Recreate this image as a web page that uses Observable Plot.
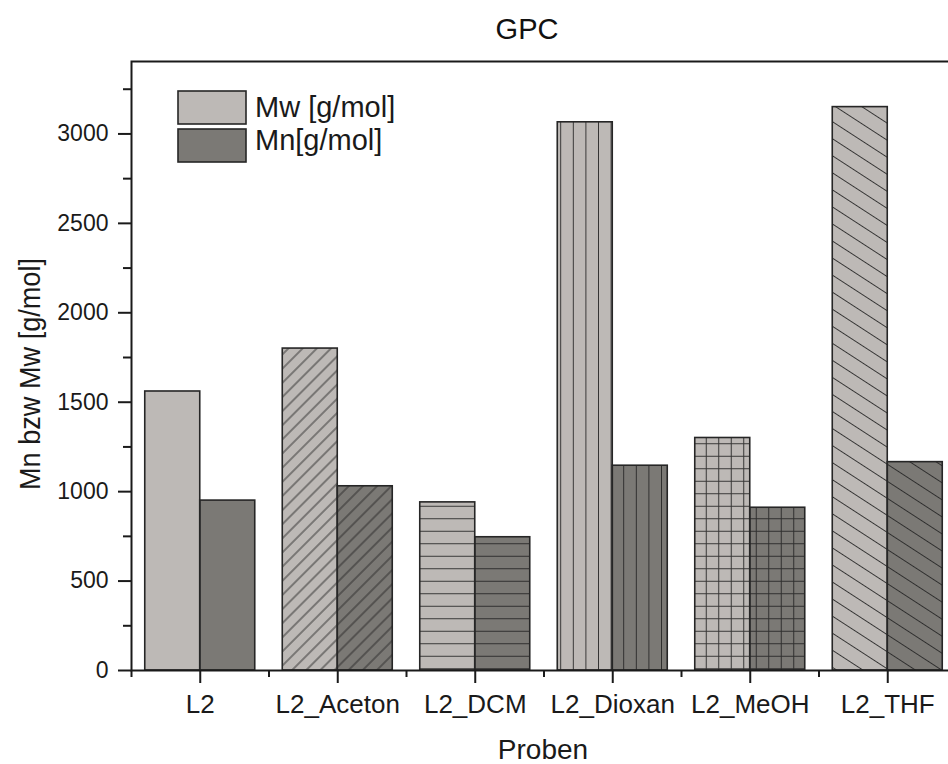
<!DOCTYPE html>
<html>
<head>
<meta charset="utf-8">
<script src="https://cdn.jsdelivr.net/npm/d3@7"></script>
<script src="https://cdn.jsdelivr.net/npm/@observablehq/plot@0.6"></script>
<style>
  html, body { margin: 0; padding: 0; background: #fff; overflow: hidden; }
  #wrap { width: 948px; height: 764px; overflow: hidden; position: relative; font-family: "Liberation Sans", Arial, sans-serif; }
  #title { position: relative; height: 50px; }
  #title span { position: absolute; left: 527px; top: 15px; transform: translateX(-50%); font-size: 29px; line-height: 29px; color: #111; white-space: nowrap; }
  #chart svg { max-width: none !important; display: block; }
</style>
</head>
<body>
<div id="wrap">
  <div id="title"><span>GPC</span></div>
  <div id="chart"></div>
</div>
<script>
// ---- data ----
const categories = ["L2", "L2_Aceton", "L2_DCM", "L2_Dioxan", "L2_MeOH", "L2_THF"];
const series = ["Mw [g/mol]", "Mn[g/mol]"];
const mwValues = [1560, 1800, 940, 3065, 1300, 3150];
const mnValues = [950, 1030, 745, 1145, 910, 1165];
const yMajorTicks = [0, 500, 1000, 1500, 2000, 2500, 3000];
const yMinorTicks = [250, 750, 1250, 1750, 2250, 2750, 3250];

// ---- styles (kept apart from data) ----
const seriesColor = {"Mw [g/mol]": "#bdb9b6", "Mn[g/mol]": "#7b7975"};
const categoryPattern = {
  "L2": "none",
  "L2_Aceton": "url(#pat-fwd)",
  "L2_DCM": "url(#pat-horiz)",
  "L2_Dioxan": "url(#pat-vert)",
  "L2_MeOH": "url(#pat-grid)",
  "L2_THF": "url(#pat-back)"
};

const rows = [];
categories.forEach((c, i) => {
  rows.push({category: c, idx: i + 1, series: series[0], value: mwValues[i], offset: -1});
  rows.push({category: c, idx: i + 1, series: series[1], value: mnValues[i], offset: 0});
});
const barW = 0.4;

const svg = Plot.plot({
  width: 960,
  height: 714,
  marginLeft: 131,
  marginRight: 4,
  marginTop: 11,
  marginBottom: 94,
  style: {fontFamily: "'Liberation Sans', Arial, sans-serif", color: "#1a1a1a", background: "white"},
  x: {type: "linear", domain: [0.5, 6.5]},
  y: {domain: [0, 3405]},
  color: {type: "identity"},
  marks: [
    Plot.rectY(rows, {
      x1: d => d.idx + d.offset * barW,
      x2: d => d.idx + (d.offset + 1) * barW,
      y: "value",
      fill: d => seriesColor[d.series]
    }),
    Plot.rectY(rows, {
      x1: d => d.idx + d.offset * barW,
      x2: d => d.idx + (d.offset + 1) * barW,
      y: "value",
      fill: d => categoryPattern[d.category],
      stroke: "#262626",
      strokeWidth: 1.6
    }),
    Plot.axisY({ticks: yMajorTicks, tickSize: 13, tickPadding: 10, fontSize: 23, label: null, strokeWidth: 2, tickFormat: d => String(d)}),
    Plot.axisY({ticks: yMinorTicks, tickSize: 8, label: null, strokeWidth: 2, tickFormat: () => ""}),
    Plot.axisX({ticks: categories.map((c, i) => i + 1), tickSize: 13, tickPadding: 11, fontSize: 26, label: null, strokeWidth: 2, tickFormat: d => categories[d - 1]}),
    Plot.axisX({ticks: categories.map((c, i) => i + 0.5).concat([categories.length + 0.5]), tickSize: 7, label: null, strokeWidth: 2, tickFormat: () => ""}),
    Plot.frame({stroke: "#1a1a1a", strokeWidth: 2})
  ]
});

// ---- hatch patterns ----
const s = d3.select(svg);
const defs = s.insert("defs", ":first-child");
function linePattern(id, spacing, angle) {
  const p = defs.append("pattern")
    .attr("id", id)
    .attr("patternUnits", "userSpaceOnUse")
    .attr("width", 10).attr("height", spacing)
    .attr("patternTransform", `rotate(${angle})`);
  p.append("line")
    .attr("x1", -1).attr("x2", 11)
    .attr("y1", spacing / 2).attr("y2", spacing / 2)
    .attr("stroke", "#262626").attr("stroke-width", 1).attr("stroke-opacity", 0.9);
}
linePattern("pat-horiz", 12.5, 0);
linePattern("pat-vert", 12.6, 90);
linePattern("pat-fwd", 10, -45);
linePattern("pat-back", 14.3, 33);
{
  const g = 12.5;
  const p = defs.append("pattern")
    .attr("id", "pat-grid")
    .attr("patternUnits", "userSpaceOnUse")
    .attr("width", g).attr("height", g);
  p.append("path")
    .attr("d", `M0,${g / 2}H${g}M${g / 2},0V${g}`)
    .attr("stroke", "#262626").attr("stroke-width", 1).attr("fill", "none").attr("stroke-opacity", 0.9);
}

// ---- axis titles ----
const font = "'Liberation Sans', Arial, sans-serif";
s.append("text")
  .attr("transform", "translate(40,324) rotate(-90)")
  .attr("text-anchor", "middle")
  .attr("font-family", font).attr("font-size", 29).attr("fill", "#1a1a1a")
  .attr("textLength", 232).attr("lengthAdjust", "spacingAndGlyphs")
  .text("Mn bzw Mw [g/mol]");
s.append("text")
  .attr("x", 543).attr("y", 709)
  .attr("text-anchor", "middle")
  .attr("font-family", font).attr("font-size", 28).attr("fill", "#1a1a1a")
  .text("Proben");

// ---- legend ----
const leg = s.append("g").attr("font-family", font).attr("font-size", 29).attr("fill", "#1a1a1a").attr("text-anchor", "start");
const legBaselines = [67, 100];
series.forEach((name, i) => {
  const top = 41 + i * 38;
  leg.append("rect")
    .attr("x", 178).attr("y", top).attr("width", 68).attr("height", 33)
    .attr("fill", seriesColor[name]).attr("stroke", "#262626").attr("stroke-width", 1.6);
  leg.append("text").attr("x", 255).attr("y", legBaselines[i]).attr("text-anchor", "start").text(name);
});

document.getElementById("chart").appendChild(svg);
</script>
</body>
</html>
